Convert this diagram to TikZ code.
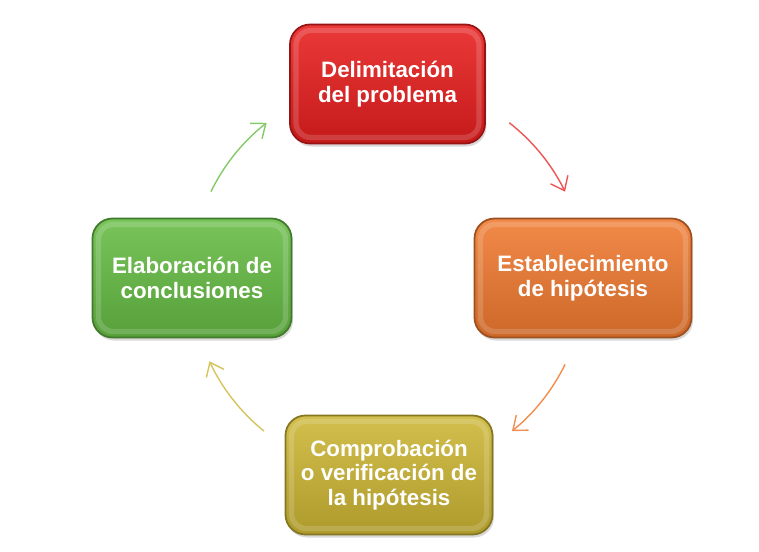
\documentclass[tikz,border=0pt]{standalone}
\usepackage{fontspec}
\setmainfont{Liberation Sans}
\usetikzlibrary{positioning, shadows, arrows.meta}

\definecolor{stagered}{RGB}{232,30,30}
\definecolor{stageorange}{RGB}{240,122,48}
\definecolor{stageyellow}{RGB}{204,182,52}
\definecolor{stagegreen}{RGB}{102,188,68}

\begin{document}
\begin{tikzpicture}[
         stage/.style={rectangle, rounded corners=0.4cm, align=center,
            text=white, font=\fontsize{12.7}{14}\selectfont\bfseries,
            minimum height=2.38cm, line width=1pt,
            drop shadow={shadow xshift=0.03cm, shadow yshift=-0.06cm, opacity=0.3},
            path picture={\draw[white, opacity=0.16, line width=3pt, rounded corners=0.3cm]
               ([shift={(0.12,-0.12)}]path picture bounding box.north west) rectangle
               ([shift={(-0.12,0.12)}]path picture bounding box.south east);}},
         redstage/.style={stage, draw=stagered!65!black, top color=stagered!88!white,
            middle color=stagered, bottom color=stagered!85!black},
         orangestage/.style={stage, draw=stageorange!65!black, top color=stageorange!88!white,
            middle color=stageorange, bottom color=stageorange!85!black},
         yellowstage/.style={stage, draw=stageyellow!65!black, top color=stageyellow!88!white,
            middle color=stageyellow, bottom color=stageyellow!85!black},
         greenstage/.style={stage, draw=stagegreen!65!black, top color=stagegreen!88!white,
            middle color=stagegreen, bottom color=stagegreen!85!black},
         cycle/.style={line width=0.8pt, -{Straight Barb[length=7pt, width=11pt]}}
      ]
         \useasboundingbox (-7.76,-5.46) rectangle (7.42,5.56);
         \coordinate (hub) at (0,0);

         % Stages of the cycle
         \node[redstage, minimum width=3.9cm] (delim) at (-0.01,3.88) {Delimitación\\del problema};
         \node[orangestage, minimum width=4.34cm] (hipo) at (3.9,0) {Establecimiento\\de hipótesis};
         \node[yellowstage, minimum width=4.14cm] (compr) at (0.02,-3.94) {Comprobación\\o verificación de\\la hipótesis};
         \node[greenstage, minimum width=3.98cm] (concl) at (-3.92,0) {Elaboración de\\conclusiones};

         % Arcs between the stages
         \draw[cycle, stagered!75!white] (hub) ++(52:3.94) arc[start angle=52, end angle=26, radius=3.94];
         \draw[cycle, stageorange!85!white] (hub) ++(-26:3.94) arc[start angle=-26, end angle=-51, radius=3.94];
         \draw[cycle, stageyellow!80!white] (hub) ++(231:3.94) arc[start angle=231, end angle=205, radius=3.94];
         \draw[cycle, stagegreen!80!white] (hub) ++(154:3.94) arc[start angle=154, end angle=128, radius=3.94];
      \end{tikzpicture}
\end{document}
